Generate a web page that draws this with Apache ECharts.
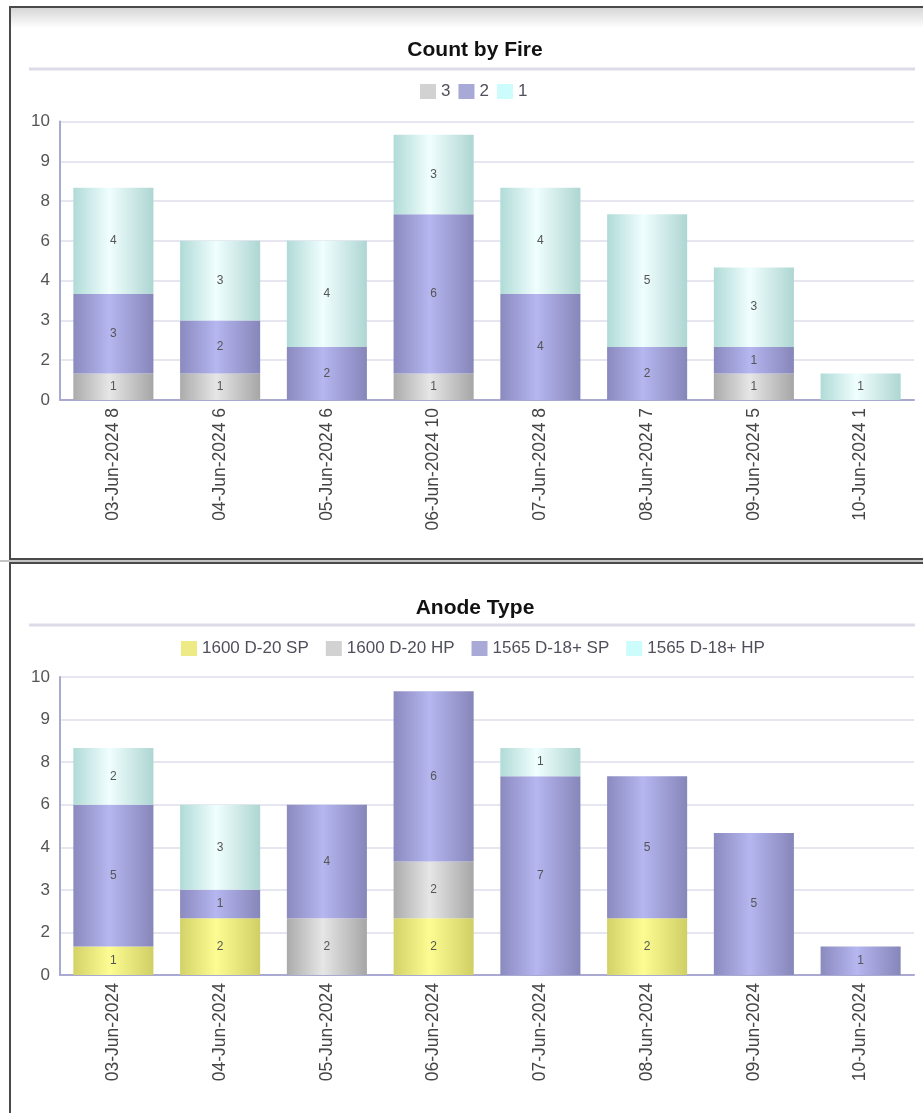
<!DOCTYPE html>
<html>
<head>
<meta charset="utf-8">
<script src="https://cdn.jsdelivr.net/npm/echarts@6/dist/echarts.min.js"></script>
<style>
html,body{margin:0;padding:0;background:#fff;}
#c{width:923px;height:1113px;}
</style>
</head>
<body>
<div id="c"></div>
<script>
// ---- data ----
const catsFire = ['03-Jun-2024 8','04-Jun-2024 6','05-Jun-2024 6','06-Jun-2024 10','07-Jun-2024 8','08-Jun-2024 7','09-Jun-2024 5','10-Jun-2024 1'];
const fire3 = [1,1,0,1,0,0,1,0];
const fire2 = [3,2,2,6,4,2,1,0];
const fire1 = [4,3,4,3,4,5,3,1];

const catsAnode = ['03-Jun-2024','04-Jun-2024','05-Jun-2024','06-Jun-2024','07-Jun-2024','08-Jun-2024','09-Jun-2024','10-Jun-2024'];
const d20sp = [1,2,0,2,0,2,0,0];
const d20hp = [0,0,2,2,0,0,0,0];
const d18sp = [5,1,4,6,7,5,5,1];
const d18hp = [2,3,0,0,1,0,0,0];

const yTickLabels = ['0','2','3','4','6','8','9','10'];
const yMax = 10.5, yStep = 1.5;

// ---- styles ----
const FONT = "'Liberation Sans', Arial, sans-serif";
function grad(c0, c1, c2){
  return {type:'linear',x:0,y:0,x2:1,y2:0,colorStops:[{offset:0,color:c0},{offset:0.45,color:c1},{offset:1,color:c2}]};
}
const colGray = grad('#ababab','#e6e6e6','#a6a6a6');
const colPurple = grad('#8a8abf','#b6b6f0','#8686ba');
const colCyan = grad('#b0dbd7','#f0fefe','#aed6d2');
const colYellow = grad('#d2d268','#fcfc92','#cfcf66');
const legGray = '#d2d2d2', legPurple = '#a9a9d8', legCyan = '#cdfcfc', legYellow = '#eeea86';

const labelCfg = {show:true, position:'inside', fontSize:12, color:'#555', fontFamily:FONT,
  formatter: p => (p.value ? String(p.value) : '')};

function yAxisCfg(gi){
  return {gridIndex:gi, type:'value', min:0, max:yMax, interval:yStep,
    axisLine:{show:true, lineStyle:{color:'#a9a9d2', width:2}},
    axisTick:{show:false},
    axisLabel:{fontSize:17, color:'#555', fontFamily:FONT, margin:10,
      formatter: v => yTickLabels[Math.round(v / yStep)]},
    splitLine:{lineStyle:{color:'#e6e6f0', width:2}}};
}
function xAxisCfg(gi, cats){
  return {gridIndex:gi, type:'category', data:cats,
    axisLine:{lineStyle:{color:'#a9a9d2', width:2}},
    axisTick:{show:false},
    axisLabel:{rotate:90, fontSize:17.5, color:'#444', fontFamily:FONT, margin:8, interval:0}};
}
function bar(name, data, color, gi){
  return {name, type:'bar', stack:'s'+gi, xAxisIndex:gi, yAxisIndex:gi, data,
    barWidth:'75%', itemStyle:{color:color}, label:labelCfg, emphasis:{disabled:true}};
}

const chart = echarts.init(document.getElementById('c'), null, {renderer:'canvas'});
chart.setOption({
  animation:false,
  backgroundColor:'#fff',
  graphic:[
    {type:'rect', shape:{x:11, y:8, width:920, height:20}, silent:true,
      style:{fill:{type:'linear',x:0,y:0,x2:0,y2:1,colorStops:[{offset:0,color:'#d6d6d6'},{offset:1,color:'#ffffff'}]}}},
    {type:'rect', shape:{x:10, y:7, width:930, height:552}, silent:true, style:{fill:null, stroke:'#4a4a4a', lineWidth:2}},
    {type:'rect', shape:{x:0, y:560, width:923, height:2}, silent:true, style:{fill:'#c4c4c4'}},
    {type:'rect', shape:{x:10, y:563, width:930, height:600}, silent:true, style:{fill:null, stroke:'#4a4a4a', lineWidth:2}},
    {type:'line', shape:{x1:29, y1:69, x2:915, y2:69}, silent:true, style:{stroke:'#dcdce8', lineWidth:3}},
    {type:'line', shape:{x1:29, y1:625, x2:915, y2:625}, silent:true, style:{stroke:'#dcdce8', lineWidth:3}}
  ],
  title:[
    {text:'Count by Fire', left:470, top:35, textAlign:'center',
      textStyle:{fontSize:21, fontWeight:'bold', color:'#111', fontFamily:FONT}},
    {text:'Anode Type', left:470, top:593, textAlign:'center',
      textStyle:{fontSize:21, fontWeight:'bold', color:'#111', fontFamily:FONT}}
  ],
  legend:[
    {left:415, top:78, itemWidth:16, itemHeight:15, itemGap:8, icon:'rect',
      textStyle:{fontSize:17, color:'#50505c', fontFamily:FONT},
      data:[{name:'3', itemStyle:{color:legGray}},{name:'2', itemStyle:{color:legPurple}},{name:'1', itemStyle:{color:legCyan}}]},
    {left:176, top:635, itemWidth:16, itemHeight:15, itemGap:17, icon:'rect',
      textStyle:{fontSize:17, color:'#50505c', fontFamily:FONT},
      data:[{name:'1600 D-20 SP', itemStyle:{color:legYellow}},{name:'1600 D-20 HP', itemStyle:{color:legGray}},
            {name:'1565 D-18+ SP', itemStyle:{color:legPurple}},{name:'1565 D-18+ HP', itemStyle:{color:legCyan}}]}
  ],
  grid:[
    {left:60, right:9, top:121.5, height:278.5},
    {left:60, right:9, top:677, height:298}
  ],
  xAxis:[xAxisCfg(0, catsFire), xAxisCfg(1, catsAnode)],
  yAxis:[yAxisCfg(0), yAxisCfg(1)],
  series:[
    bar('3', fire3, colGray, 0),
    bar('2', fire2, colPurple, 0),
    bar('1', fire1, colCyan, 0),
    bar('1600 D-20 SP', d20sp, colYellow, 1),
    bar('1600 D-20 HP', d20hp, colGray, 1),
    bar('1565 D-18+ SP', d18sp, colPurple, 1),
    bar('1565 D-18+ HP', d18hp, colCyan, 1)
  ]
});
</script>
</body>
</html>
